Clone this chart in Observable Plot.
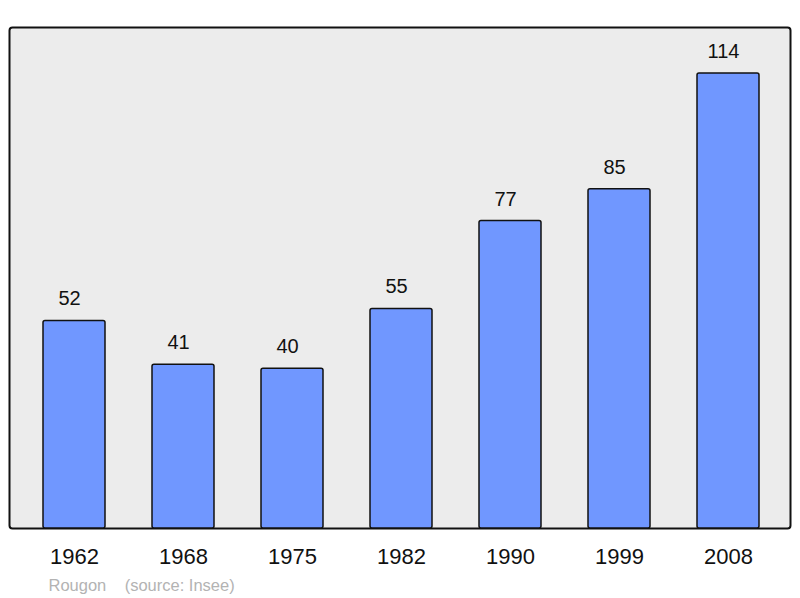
<!DOCTYPE html>
<html>
<head>
<meta charset="utf-8">
<script src="https://cdn.jsdelivr.net/npm/d3@7"></script>
<script src="https://cdn.jsdelivr.net/npm/@observablehq/plot@0.6"></script>
<style>
  html, body { margin: 0; padding: 0; background: #ffffff; }
  #chart svg { display: block; }
</style>
</head>
<body>
<div id="chart"></div>
<script>
const years = ["1962", "1968", "1975", "1982", "1990", "1999", "2008"];
const population = [52, 41, 40, 55, 77, 85, 114];
const captionText = "Rougon\u00a0\u00a0\u00a0\u00a0(source: Insee)";

const data = years.map((year, i) => ({year, value: population[i]}));

const chart = Plot.plot({
  width: 800,
  height: 598,
  marginLeft: 9,
  marginRight: 10,
  marginTop: 27,
  marginBottom: 70,
  style: {fontFamily: "'Liberation Sans', Arial, sans-serif", background: "#ffffff"},
  x: {domain: years, range: [18, 784.5], paddingInner: 0.429, paddingOuter: 0.2145, label: null},
  y: {domain: [0, 125.5], axis: null},
  marks: [
    Plot.frame({fill: "#ececec", stroke: "#111111", strokeWidth: 2, rx: 3}),
    Plot.barY(data, {x: "year", y: "value", fill: "#7097ff", stroke: "#111111", strokeWidth: 1.5, rx: 2}),
    Plot.text(data, {x: "year", y: "value", text: d => String(d.value), dx: -5, dy: -22, lineAnchor: "middle", fontSize: 20, fill: "#111111"}),
    Plot.axisX({tickSize: 0, tickPadding: 20, fontSize: 22, fill: "#111111", label: null}),
    Plot.text([captionText], {frameAnchor: "bottom-left", dx: 39, dy: 57, textAnchor: "start", lineAnchor: "middle", fontSize: 16.5, fill: "#b3b3b3"})
  ]
});
document.getElementById("chart").append(chart);
</script>
</body>
</html>
